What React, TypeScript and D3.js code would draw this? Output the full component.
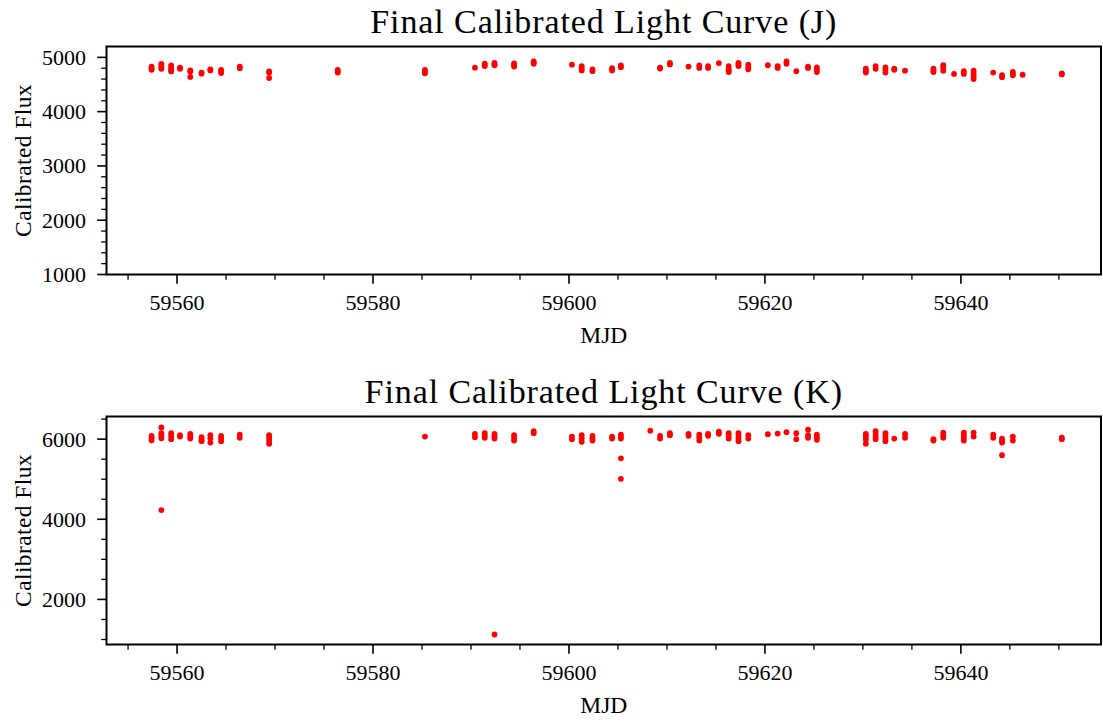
import React from "react";
import * as d3 from "d3";

// J band: observation epochs (MJD) and the calibrated fluxes measured at each epoch
const jEpochs = [
  59557.4, 59558.4, 59559.4, 59560.3, 59561.35, 59562.5, 59563.4, 59564.5, 59566.4, 59569.4,
  59576.4, 59585.3, 59590.4, 59591.4, 59592.4, 59594.4, 59596.4, 59600.3, 59601.3, 59602.4,
  59604.4, 59605.3, 59609.3, 59610.3, 59612.2, 59613.3, 59614.2, 59615.3, 59616.3, 59617.3,
  59618.3, 59620.3, 59621.3, 59622.2, 59623.2, 59624.4, 59625.3, 59630.3, 59631.3, 59632.3,
  59633.2, 59634.3, 59637.2, 59638.2, 59639.3, 59640.3, 59641.3, 59643.3, 59644.2, 59645.3,
  59646.3, 59650.3,
];
const jFlux = [
  [4830, 4800, 4770], [4880, 4850, 4810, 4790], [4850, 4810, 4770, 4740], [4810, 4790],
  [4760, 4740, 4640], [4720, 4700], [4780, 4760], [4770, 4740, 4710], [4830, 4800],
  [4740, 4720, 4620], [4770, 4740, 4720], [4770, 4740, 4705], [4810], [4885, 4860, 4840],
  [4900, 4875, 4855], [4890, 4860, 4830], [4925, 4900, 4880], [4865], [4840, 4800, 4760],
  [4780, 4745], [4800, 4760], [4850, 4820], [4810, 4795], [4900, 4870], [4830], [4850, 4805],
  [4840, 4805], [4895], [4840, 4790, 4760, 4730], [4900, 4870, 4840], [4865, 4820, 4780],
  [4855], [4840, 4805], [4925, 4880], [4745], [4830, 4805], [4815, 4770, 4730],
  [4790, 4750, 4720], [4840, 4790], [4815, 4770, 4720], [4790, 4770], [4755],
  [4790, 4760, 4730], [4855, 4810, 4755], [4695], [4745, 4695], [4755, 4700, 4650, 4600],
  [4720], [4670, 4635], [4730, 4700, 4670], [4680], [4705, 4685],
];

// K band: observation epochs (MJD) and the calibrated fluxes measured at each epoch
const kEpochs = [
  59557.4, 59558.4, 59559.4, 59560.3, 59561.35, 59562.5, 59563.4, 59564.5, 59566.4, 59569.4,
  59585.3, 59590.4, 59591.4, 59592.4, 59594.4, 59596.4, 59600.3, 59601.3, 59602.4, 59604.4,
  59605.3, 59608.3, 59609.3, 59610.3, 59612.2, 59613.3, 59614.2, 59615.3, 59616.3, 59617.3,
  59618.3, 59620.3, 59621.3, 59622.2, 59623.2, 59624.4, 59625.3, 59630.3, 59631.3, 59632.3,
  59633.2, 59634.3, 59637.2, 59638.2, 59640.3, 59641.3, 59643.3, 59644.2, 59645.3, 59650.3,
];
const kFlux = [
  [6080, 6030, 5970], [6290, 6150, 6080, 6020, 4230], [6150, 6080, 6000], [6100, 6065],
  [6130, 6070, 6015], [6050, 5990, 5950], [6100, 6020, 5915], [6080, 6010, 5950],
  [6115, 6035], [6100, 6030, 5960, 5885], [6065], [6130, 6050], [6150, 6090, 6035],
  [6130, 6070, 6015, 1125], [6100, 6030, 5965], [6200, 6150], [6065, 6000],
  [6100, 6020, 5935], [6080, 6020, 5965], [6065, 6015], [6115, 6060, 6015, 5520, 5010],
  [6210], [6080, 6015], [6150, 6100], [6130, 6085], [6115, 6040, 5965], [6130, 6085],
  [6185, 6135], [6150, 6080, 6015], [6150, 6080, 6010, 5950], [6100, 6015], [6125],
  [6140], [6175], [6150, 6000], [6235, 6100, 6035], [6115, 6050, 5985],
  [6130, 6060, 5990, 5885], [6200, 6130, 6060, 6000], [6150, 6080, 6010, 5950], [6015],
  [6130, 6035], [6000, 5965], [6165, 6100, 6035], [6165, 6100, 6030, 5965], [6165, 6065],
  [6115, 6035], [6015, 5960, 5915, 5600], [6065, 5965], [6035, 6000],
];

// Axis settings
const mjdDomain = [59552.8, 59654.3];
const mjdMajor = [59560, 59580, 59600, 59620, 59640];
const mjdMinorStep = 5;

const jFluxDomain = [1000, 5200];
const jMajor = [1000, 2000, 3000, 4000, 5000];
const jMinorStep = 200;

const kFluxDomain = [875, 6565];
const kMajor = [2000, 4000, 6000];
const kMinorStep = 500;

const W = 1103;
const H = 722;
const LEFT = 106.5;
const RIGHT = 1101;
const FONT = "'Liberation Serif', 'Times New Roman', serif";

type PanelProps = {
  title: string;
  top: number;
  bottom: number;
  epochs: number[];
  flux: number[][];
  yDomain: number[];
  yMajor: number[];
  yMinorStep: number;
};

function Panel({ title, top, bottom, epochs, flux, yDomain, yMajor, yMinorStep }: PanelProps) {
  const x = d3.scaleLinear().domain(mjdDomain).range([LEFT, RIGHT]);
  const y = d3.scaleLinear().domain(yDomain).range([bottom, top]);

  const xMinor = d3
    .range(Math.ceil(mjdDomain[0] / mjdMinorStep) * mjdMinorStep, mjdDomain[1], mjdMinorStep)
    .filter((v) => !mjdMajor.includes(v));
  const yMinor = d3
    .range(Math.ceil(yDomain[0] / yMinorStep) * yMinorStep, yDomain[1], yMinorStep)
    .filter((v) => !yMajor.includes(v));

  const points = epochs.flatMap((t, i) => flux[i].map((f) => [t, f] as [number, number]));
  const midY = (top + bottom) / 2;
  const midX = (LEFT + RIGHT) / 2;

  return (
    <g>
      <text
        x={midX}
        y={top - 14}
        textAnchor="middle"
        fontFamily={FONT}
        fontSize={34}
        letterSpacing={0.9}
        fill="#000"
      >
        {title}
      </text>

      {points.map(([t, f], i) => (
        <circle key={i} cx={x(t)} cy={y(f)} r={2.9} fill="#ff0000" />
      ))}

      {/* x ticks */}
      {xMinor.map((v) => (
        <line key={"xm" + v} x1={x(v)} x2={x(v)} y1={bottom} y2={bottom + 5.3} stroke="#000" strokeWidth={1.3} />
      ))}
      {mjdMajor.map((v) => (
        <g key={"xM" + v}>
          <line x1={x(v)} x2={x(v)} y1={bottom} y2={bottom + 9.3} stroke="#000" strokeWidth={1.6} />
          <text x={x(v)} y={bottom + 35.5} textAnchor="middle" fontFamily={FONT} fontSize={22} fill="#000">
            {v}
          </text>
        </g>
      ))}

      {/* y ticks */}
      {yMinor.map((v) => (
        <line key={"ym" + v} x1={LEFT} x2={LEFT - 5.3} y1={y(v)} y2={y(v)} stroke="#000" strokeWidth={1.3} />
      ))}
      {yMajor.map((v) => (
        <g key={"yM" + v}>
          <line x1={LEFT} x2={LEFT - 9.3} y1={y(v)} y2={y(v)} stroke="#000" strokeWidth={1.6} />
          <text x={86} y={y(v) + 7.5} textAnchor="end" fontFamily={FONT} fontSize={22} fill="#000">
            {v}
          </text>
        </g>
      ))}

      <rect x={LEFT} y={top} width={RIGHT - LEFT} height={bottom - top} fill="none" stroke="#000" strokeWidth={2} />

      <text x={midX} y={bottom + 68} textAnchor="middle" fontFamily={FONT} fontSize={23.5} fill="#000">
        MJD
      </text>
      <text
        transform={`translate(30.5, ${midY}) rotate(-90)`}
        textAnchor="middle"
        fontFamily={FONT}
        fontSize={23.5}
        letterSpacing={0.4}
        fill="#000"
      >
        Calibrated Flux
      </text>
    </g>
  );
}

export default function App() {
  return (
    <svg
      width={W}
      height={H}
      viewBox={`0 0 ${W} ${H}`}
      style={{ position: "absolute", left: 0, top: 0, background: "#fff" }}
    >
      <rect x={0} y={0} width={W} height={H} fill="#fff" />
      <Panel
        title="Final Calibrated Light Curve (J)"
        top={46.5}
        bottom={274.5}
        epochs={jEpochs}
        flux={jFlux}
        yDomain={jFluxDomain}
        yMajor={jMajor}
        yMinorStep={jMinorStep}
      />
      <Panel
        title="Final Calibrated Light Curve (K)"
        top={416.5}
        bottom={644.5}
        epochs={kEpochs}
        flux={kFlux}
        yDomain={kFluxDomain}
        yMajor={kMajor}
        yMinorStep={kMinorStep}
      />
    </svg>
  );
}
